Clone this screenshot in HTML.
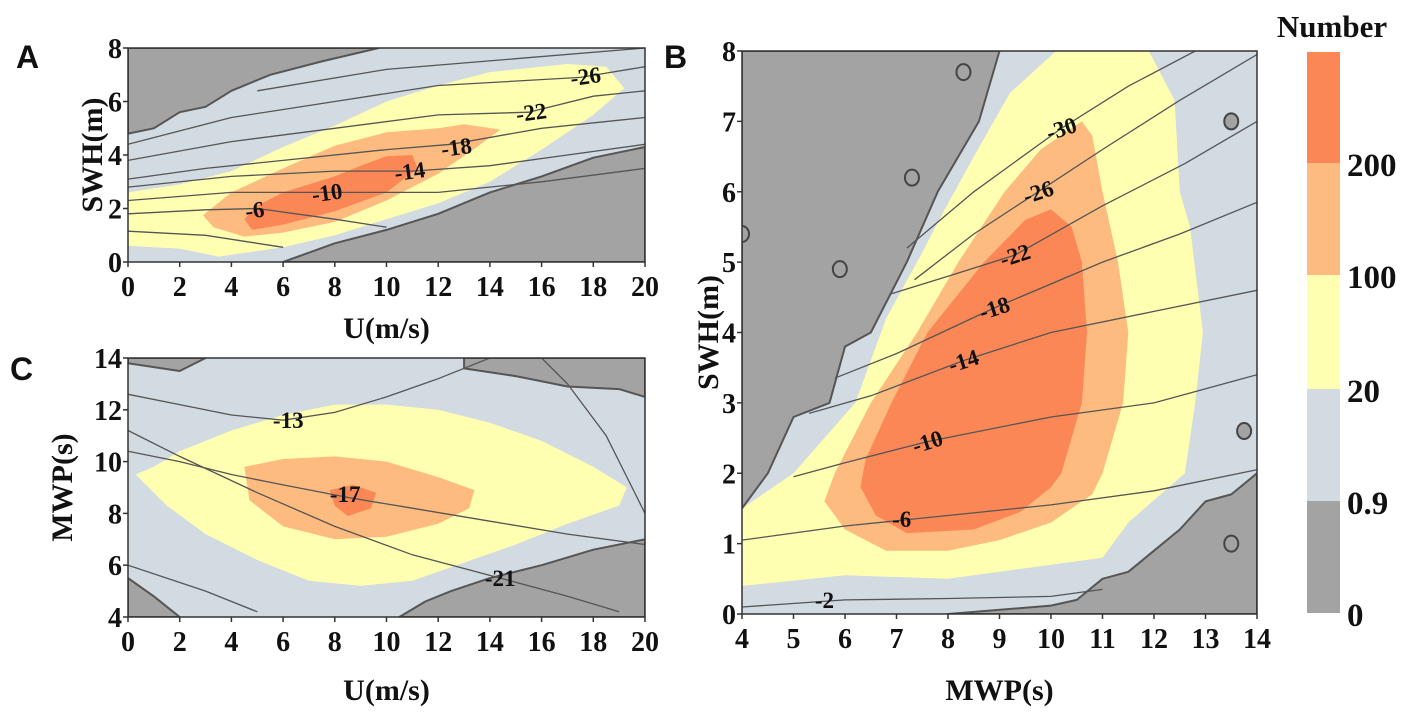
<!DOCTYPE html>
<html><head><meta charset="utf-8"><style>
html,body{margin:0;padding:0;background:#fff;}
svg{display:block;}
.tk{font-family:"Liberation Serif",serif;font-weight:bold;font-size:28px;fill:#111;}
.ttl{font-family:"Liberation Serif",serif;font-weight:bold;font-size:30px;fill:#111;}
.pl{font-family:"Liberation Sans",sans-serif;font-weight:bold;font-size:32px;fill:#111;}
.cl{font-family:"Liberation Serif",serif;font-weight:bold;font-size:23px;fill:#111;}
</style></head><body>
<svg id="fig" width="1417" height="716" viewBox="0 0 1417 716"></svg>
<script>
// ---------- colour levels ----------
const levelColors = ["#a3a3a3","#d2dae2","#ffffb2","#fdbb80","#fc8756"];
const levelLabels = ["0","0.9","20","100","200"];

// ---------- Panel A (U vs SWH) ----------
const aGreyTop = [[0,8],[9.7,8],[7.5,7.5],[5.5,7],[4,6.4],[3,5.8],[2,5.6],[1,5],[0,4.8]];
const aGreyBot = [[6,0],[8,0.7],[10,1.2],[12,1.8],[14,2.6],[16,3.2],[18,3.9],[20,4.3],[20,0]];
const aYellow = [[0,0.6],[2,0.5],[3.5,0.2],[6,0.55],[8,1.0],[10,1.6],[12,2.2],[14,3.0],[16,4.2],[18,5.5],[19.2,6.5],[18.5,7.3],[17,7.4],[14,7.1],[12,6.6],[10,6.0],[8,5.1],[6,4.3],[4,3.4],[2,2.9],[0,2.6]];
const aLOrange = [[2.9,1.75],[4,2.6],[6,3.5],[8,4.35],[10,4.85],[12,5.0],[13,5.15],[14.4,4.95],[13.5,4.3],[12,3.3],[10,2.3],[8,1.5],[6,1.1],[4.5,0.95],[3.3,1.3]];
const aOrange = [[4.5,1.6],[5,2.1],[6,2.6],[8,3.2],[9,3.6],[10,3.95],[11,4.0],[11.2,3.5],[10,2.6],[8,1.9],[6,1.4],[4.8,1.2]];
const aLines = [
 [[0,1.15],[3,1.0],[6,0.55]],
 [[0,1.8],[3,1.95],[5,2.0],[8,1.6],[10,1.3]],
 [[0,2.3],[4,2.6],[8,2.6],[12,2.6],[16,3.0],[20,3.5]],
 [[0,2.8],[4,3.2],[8,3.4],[11,3.4],[14,3.6],[17,4.0],[20,4.4]],
 [[0,3.1],[3,3.5],[6,3.8],[10,4.2],[12.5,4.4],[16,5.0],[20,5.4]],
 [[0,3.8],[4,4.5],[8,5.0],[12,5.5],[15.5,5.6],[18,6.2],[20,6.4]],
 [[0,4.4],[4,5.4],[8,6.0],[12,6.6],[17.5,6.9],[20,7.3]],
 [[5,6.4],[10,7.2],[15,7.6],[20,8]]
];
const aLabels = ["-6","-10","-14","-18","-22","-26"];
const aLabelPos = [[4.9,1.95],[7.7,2.6],[10.9,3.4],[12.7,4.3],[15.6,5.6],[17.7,6.95]];

// ---------- Panel C (U vs MWP) ----------
const cGrey = [
 [[13,14],[20,14],[20,12.5],[19,12.8],[17,12.9],[15,13.3],[13,13.6]],
 [[0,14],[3,14],[2,13.5],[0,13.8]],
 [[10.5,4],[20,4],[20,7],[18,6.6],[16,6],[14,5.5],[12.5,5.0],[11.5,4.6]],
 [[0,4],[2,4],[1,4.8],[0,5.5]]
];
const cYellow = [[1,9.8],[2,10.4],[4,11.2],[6,11.8],[8,12.2],[10,12.2],[12,12.0],[14,11.5],[16,10.8],[18,9.8],[19.3,9.0],[19,8.3],[17,7.6],[15,6.8],[13,6.1],[11,5.4],[9,5.2],[7,5.4],[5,6.2],[3,7.2],[1.5,8.3],[0.3,9.5]];
const cLOrange = [[4.5,9.8],[6,10.1],[8,10.2],[10,10.0],[12,9.4],[13.4,8.9],[13.2,8.2],[12,7.6],[10,7.1],[8,7.0],[6,7.5],[4.7,8.5]];
const cOrange = [[7.8,8.9],[8.7,9.1],[9.6,8.8],[9.4,8.2],[8.5,7.9],[8,8.3]];
const cLines = [
 [[0,12.6],[2,12.2],[4,11.8],[6,11.6],[8,11.9],[10,12.5],[12,13.2],[14,14]],
 [[16,14],[17,13],[18.5,11],[19.5,9],[20,8]],
 [[0,10.4],[2,10.0],[4,9.5],[6,9.1],[8.6,8.6],[11,8.2],[14,7.7],[17,7.2],[20,6.8]],
 [[0,11.2],[2,10.2],[5,8.8],[8,7.5],[11,6.4],[14.4,5.5],[17,4.8],[19,4.2]],
 [[0,6],[3,5.0],[5,4.2]]
];
const cLabels = ["-13","-17","-21"];
const cLabelPos = [[6.2,11.6],[8.4,8.75],[14.4,5.5]];

// ---------- Panel B (MWP vs SWH) ----------
const bGrey = [
 [[4,1.5],[4.5,2.0],[5,2.8],[5.7,3.0],[6,3.8],[6.5,4.0],[7.2,5.0],[7.8,6.0],[8.6,7.0],[9,8],[4,8]],
 [[8,0],[14,0],[14,2.0],[13.5,1.7],[13,1.6],[12.5,1.2],[12,0.9],[11.5,0.6],[11,0.5],[10.5,0.2],[10,0.12]]
];
const bYellow = [[4,0.4],[6,0.55],[8,0.5],[10,0.7],[11,0.8],[11.5,1.3],[12.6,2.0],[12.8,3],[12.95,4.0],[12.7,5.5],[12.5,6.0],[12.4,7.3],[11.9,8],[10.1,8],[9.2,7.4],[8.5,6.5],[7.9,5.7],[7.4,5.0],[6.8,4.2],[6.2,3.0],[5.0,2.0],[4,1.5]];
const bLOrange = [[5.6,1.6],[6,1.2],[6.8,0.9],[8,0.9],[9,1.05],[10,1.3],[10.8,1.7],[11.0,2.0],[11.4,3.0],[11.5,4.0],[11.3,5.0],[11.0,6.0],[10.8,6.8],[10.6,7.0],[9.8,6.6],[9.1,6.0],[8.2,5.0],[7.4,4.0],[6.5,3.0],[5.8,2.0]];
const bOrange = [[6.6,1.4],[7.2,1.15],[8.5,1.2],[9.4,1.45],[10.0,1.8],[10.2,2.0],[10.6,3.0],[10.7,4.0],[10.6,5.0],[10.4,5.5],[10.0,5.75],[9.5,5.6],[8.7,5.0],[7.6,4.0],[6.9,3.0],[6.4,2.2],[6.3,1.8]];
const bLines = [
 [[4,0.1],[6,0.2],[8,0.22],[10,0.25],[11,0.35]],
 [[4,1.05],[6,1.25],[8,1.4],[10,1.55],[12,1.75],[14,2.05]],
 [[5.0,1.95],[6,2.15],[7.6,2.45],[10,2.8],[12,3.0],[14,3.4]],
 [[5.3,2.85],[6.5,3.1],[8.3,3.6],[10,4.0],[12,4.3],[14,4.6]],
 [[5.8,3.35],[7,3.7],[8.9,4.35],[11,5.0],[12.5,5.4],[14,5.85]],
 [[6.9,4.55],[8,4.8],[9.3,5.1],[11,5.8],[12.6,6.4],[14,7.0]],
 [[7.35,4.75],[8.5,5.4],[9.75,6.0],[11,6.6],[12.5,7.3],[14,7.95]],
 [[7.2,5.2],[8.5,6.0],[10.2,6.9],[11.5,7.5],[12.8,8.0]]
];
const bLabels = ["-2","-6","-10","-14","-18","-22","-26","-30"];
const bLabelPos = [[5.6,0.2],[7.1,1.35],[7.6,2.45],[8.3,3.6],[8.9,4.35],[9.3,5.1],[9.75,6.0],[10.2,6.9]];
const bRings = [[4,5.4],[5.9,4.9],[8.3,7.7],[7.3,6.2],[13.5,7.0],[13.75,2.6],[13.5,1.0]];

const NS="http://www.w3.org/2000/svg";
const svg=document.getElementById('fig');
function mk(tag,attrs,parent){const e=document.createElementNS(NS,tag);for(const k in attrs)e.setAttribute(k,attrs[k]);(parent||svg).appendChild(e);return e;}
function scale(d0,d1,p0,p1){return v=>p0+(v-d0)/(d1-d0)*(p1-p0);}

function panel(cfg){
  const g=mk('g',{});
  
  
  const X=scale(cfg.xd[0],cfg.xd[1],cfg.px[0],cfg.px[1]);
  const Y=scale(cfg.yd[0],cfg.yd[1],cfg.py[0],cfg.py[1]);
  const clipId=cfg.name+'-clip';
  const cp=mk('clipPath',{id:clipId},g);
  mk('rect',{x:cfg.px[0],y:cfg.py[1],width:cfg.px[1]-cfg.px[0],height:cfg.py[0]-cfg.py[1]},cp);
  const inner=mk('g',{'clip-path':'url(#'+clipId+')'},g);
  const bg=mk('rect',{x:cfg.px[0],y:cfg.py[1],width:cfg.px[1]-cfg.px[0],height:cfg.py[0]-cfg.py[1],fill:levelColors[1]},inner);
  
  
  const pts=a=>a.map(p=>X(p[0]).toFixed(1)+','+Y(p[1]).toFixed(1)).join(' ');
  cfg.regions.forEach(r=>{
    const p=mk('polygon',{points:pts(r.pts),fill:levelColors[r.lvl],stroke:r.lvl===0?'#555':'none','stroke-width':r.lvl===0?2:0,'stroke-linejoin':'round'},inner);
    
    
  });
  (cfg.rings||[]).forEach(c=>{
    const e=mk('ellipse',{cx:X(c[0]),cy:Y(c[1]),rx:7,ry:8,fill:'#a3a3a3',stroke:'#444','stroke-width':2},inner);
    
    
  });
  cfg.lines.forEach(l=>{
    const p=mk('polyline',{points:pts(l),fill:'none',stroke:'#555','stroke-width':1.3},inner);
    
    
  });
  cfg.labels.forEach((t,i)=>{
    const lp=cfg.labelPos[i];
    const px=X(lp[0]),py=Y(lp[1]);
    const tx=mk('text',{x:px,y:py+8,'text-anchor':'middle',class:'cl',transform:'rotate('+(cfg.labelRot||0)*(i>=(cfg.rotFrom||0)?1:0)+' '+px+' '+py+')'},inner);
    tx.textContent=t;
    
    
  });
  const fr=mk('rect',{x:cfg.px[0],y:cfg.py[1],width:cfg.px[1]-cfg.px[0],height:cfg.py[0]-cfg.py[1],fill:'none',stroke:'#333','stroke-width':1.5},g);
  
  
  cfg.xt.forEach(v=>{
    mk('line',{x1:X(v),x2:X(v),y1:cfg.py[0],y2:cfg.py[0]+5,stroke:'#333','stroke-width':1.5},g);
    const t=mk('text',{x:X(v),y:cfg.py[0]+34,'text-anchor':'middle',class:'tk'},g);
    t.textContent=v;
    
    
  });
  cfg.yt.forEach(v=>{
    mk('line',{x1:cfg.px[0]-5,x2:cfg.px[0],y1:Y(v),y2:Y(v),stroke:'#333','stroke-width':1.5},g);
    const t=mk('text',{x:cfg.px[0]-6,y:Y(v)+10,'text-anchor':'end',class:'tk'},g);
    t.textContent=v;
    
    
  });
  const xt=mk('text',{x:(cfg.px[0]+cfg.px[1])/2,y:cfg.xtY,'text-anchor':'middle',class:'ttl'},g);
  xt.textContent=cfg.xlab;
  
  
  const yc=(cfg.py[0]+cfg.py[1])/2;
  const yt=mk('text',{x:cfg.ytX,y:yc,'text-anchor':'middle',class:'ttl',transform:'rotate(-90 '+cfg.ytX+' '+yc+')'},g);
  yt.textContent=cfg.ylab;
  
  
  const pl=mk('text',{x:cfg.letter[1],y:cfg.letter[2],class:'pl'},g);
  pl.textContent=cfg.letter[0];
  
  
}

panel({name:'panel-a',xd:[0,20],yd:[0,8],px:[128,645],py:[262,48],
  regions:[{pts:aYellow,lvl:2},{pts:aLOrange,lvl:3},{pts:aOrange,lvl:4},{pts:aGreyTop,lvl:0},{pts:aGreyBot,lvl:0}],
  lines:aLines,labels:aLabels,labelPos:aLabelPos,labelRot:-8,rotFrom:0,
  xt:[0,2,4,6,8,10,12,14,16,18,20],yt:[0,2,4,6,8],xlab:'U(m/s)',ylab:'SWH(m)',xtY:338,ytX:102,letter:['A',16,68]});
panel({name:'panel-c',xd:[0,20],yd:[4,14],px:[128,645],py:[617,358],
  regions:[{pts:cYellow,lvl:2},{pts:cLOrange,lvl:3},{pts:cOrange,lvl:4}].concat(cGrey.map(p=>({pts:p,lvl:0}))),
  lines:cLines,labels:cLabels,labelPos:cLabelPos,
  xt:[0,2,4,6,8,10,12,14,16,18,20],yt:[4,6,8,10,12,14],xlab:'U(m/s)',ylab:'MWP(s)',xtY:700,ytX:72,letter:['C',10,380]});
panel({name:'panel-b',xd:[4,14],yd:[0,8],px:[742,1257],py:[614,51],
  regions:[{pts:bYellow,lvl:2},{pts:bLOrange,lvl:3},{pts:bOrange,lvl:4}].concat(bGrey.map(p=>({pts:p,lvl:0}))),
  lines:bLines,labels:bLabels,labelPos:bLabelPos,labelRot:-18,rotFrom:2,rings:bRings,
  xt:[4,5,6,7,8,9,10,11,12,13,14],yt:[0,1,2,3,4,5,6,7,8],xlab:'MWP(s)',ylab:'SWH(m)',xtY:700,ytX:718,letter:['B',664,68]});

// ---------- colour bar ----------
const cbY=[613,501,389,275,163,52];
const cb=mk('g',{});


for(let i=0;i<5;i++){
  const r=mk('rect',{x:1307,y:cbY[i+1],width:33,height:cbY[i]-cbY[i+1],fill:levelColors[i]},cb);
  
  
  const t=mk('text',{x:1347,y:cbY[i]+13,class:'tk',style:'font-size:33px'},cb);
  t.textContent=levelLabels[i];
  
  
}
const nt=mk('text',{x:1332,y:37,'text-anchor':'middle',class:'ttl',style:'font-size:31px'},cb);
nt.textContent='Number';


</script>
</body></html>
